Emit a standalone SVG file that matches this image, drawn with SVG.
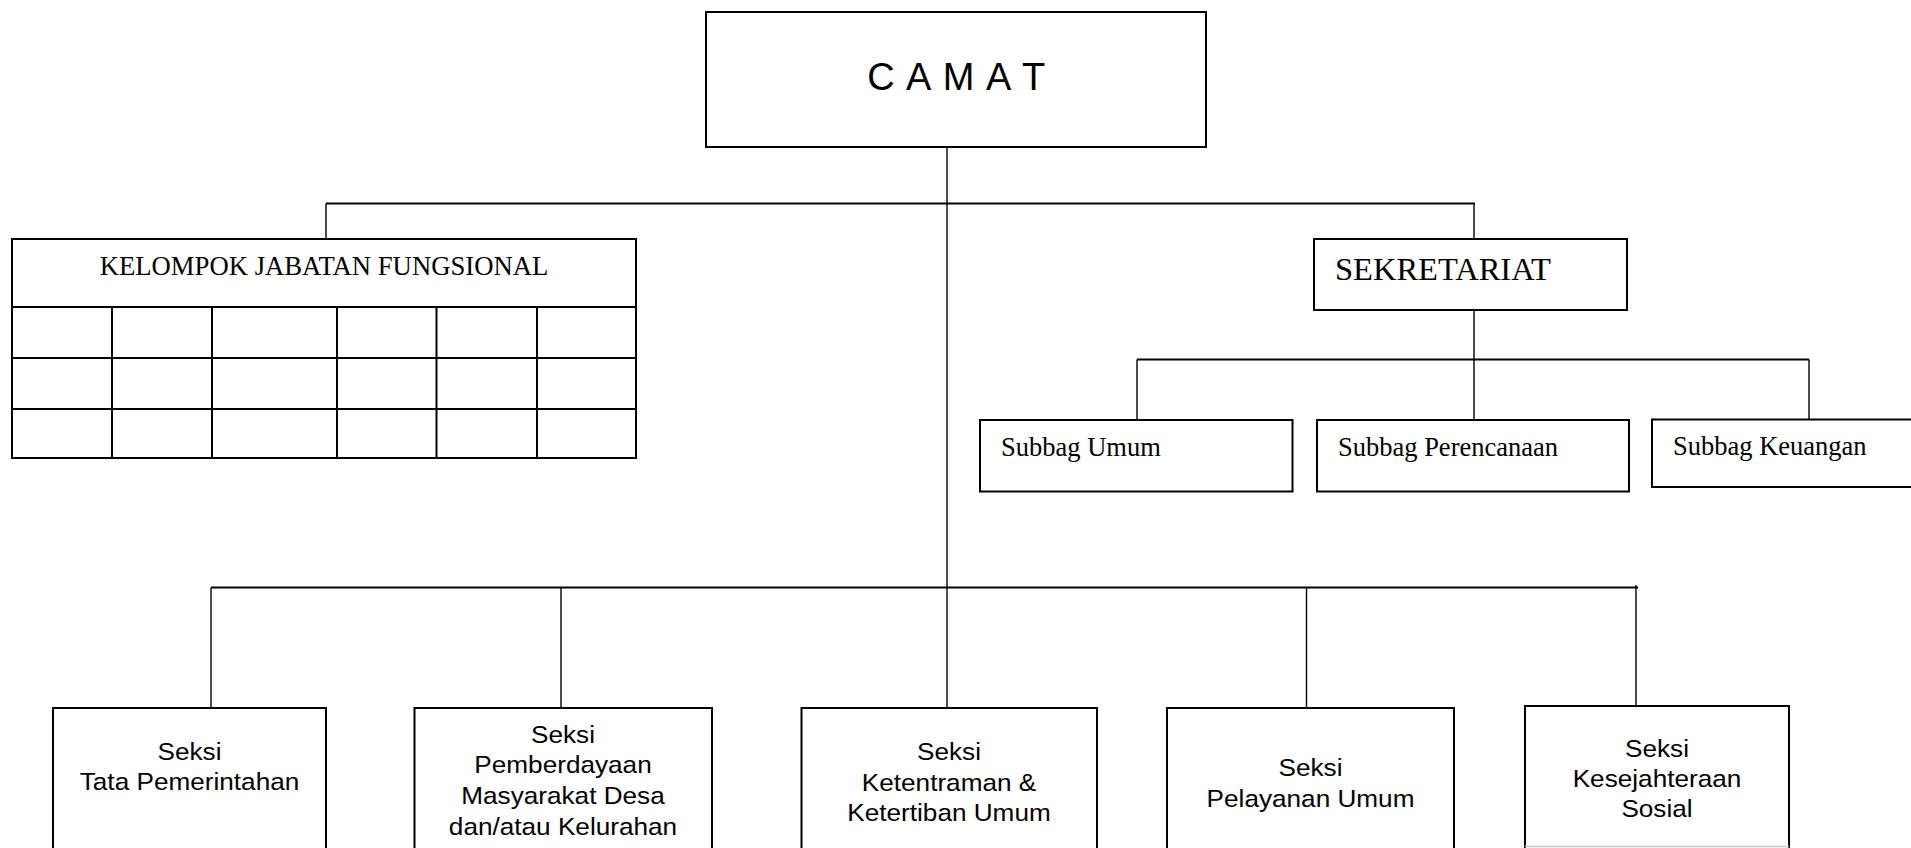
<svg xmlns="http://www.w3.org/2000/svg" width="1911" height="848" viewBox="0 0 1911 848">
<style>
.box{fill:#fff;stroke:#000;stroke-width:2}
.grid{fill:none;stroke:#000;stroke-width:2}
.hl{stroke:#000;stroke-width:2.2;fill:none}
.vl{stroke:#000;stroke-width:1.4;fill:none}
.serif{font-family:"Liberation Serif","Times New Roman",serif;fill:#000}
.sans{font-family:"Liberation Sans",Arial,sans-serif;fill:#000}
.sek{font-family:"Liberation Sans",Arial,sans-serif;font-size:24px;fill:#000;text-anchor:middle}
</style>
<rect width="1911" height="848" fill="#fff"/>
<g id="connectors">
<line class="vl" x1="947" y1="147" x2="947" y2="707"/>
<line class="hl" x1="326" y1="203.5" x2="1475" y2="203.5"/>
<line class="vl" x1="326" y1="203.5" x2="326" y2="239"/>
<line class="vl" x1="1474" y1="203.5" x2="1474" y2="239"/>
<line class="vl" x1="1474" y1="310" x2="1474" y2="420"/>
<line class="hl" x1="1137" y1="359.5" x2="1809" y2="359.5"/>
<line class="vl" x1="1137" y1="359.5" x2="1137" y2="420"/>
<line class="vl" x1="1809" y1="359.5" x2="1809" y2="420"/>
<line class="hl" x1="211" y1="587.5" x2="1638" y2="587.5"/>
<line class="vl" x1="211" y1="587.5" x2="211" y2="708"/>
<line class="vl" x1="561" y1="587.5" x2="561" y2="708"/>
<line class="vl" x1="1306.5" y1="587.5" x2="1306.5" y2="708"/>
<line class="vl" x1="1636" y1="585" x2="1636" y2="706"/>
</g>
<g id="camat">
<rect class="box" x="706" y="12" width="500" height="135"/>
<text class="sans" x="957" y="90" font-size="38" letter-spacing="1.5" text-anchor="middle">C A M A T</text>
</g>
<g id="kelompok-jabatan-fungsional">
<rect class="box" x="12" y="239" width="624" height="219"/>
<path class="grid" d="M12 307H636M12 358H636M12 409H636M112 307V458M212 307V458M337 307V458M436.5 307V458M537 307V458"/>
<text class="serif" x="324" y="275" font-size="26.7" text-anchor="middle">KELOMPOK JABATAN FUNGSIONAL</text>
</g>
<g id="sekretariat">
<rect class="box" x="1314" y="239" width="313" height="71"/>
<text class="serif" x="1335" y="280" font-size="32.5">SEKRETARIAT</text>
</g>
<g id="subbag-umum">
<rect class="box" x="980" y="420" width="312.5" height="71.5"/>
<text class="serif" x="1001" y="455.5" font-size="26.5">Subbag Umum</text>
</g>
<g id="subbag-perencanaan">
<rect class="box" x="1317" y="420" width="312" height="71.5"/>
<text class="serif" x="1338" y="455.5" font-size="26.5">Subbag Perencanaan</text>
</g>
<g id="subbag-keuangan">
<rect class="box" x="1652" y="419.5" width="300" height="67.5"/>
<text class="serif" x="1673" y="455" font-size="26.5">Subbag Keuangan</text>
</g>
<g id="seksi-tata-pemerintahan">
<rect class="box" x="53" y="708" width="273" height="160"/>
<g transform="translate(189.5 0) scale(1.09 1)">
<text class="sek" x="0" y="760">Seksi</text>
<text class="sek" x="0" y="790">Tata Pemerintahan</text>
</g>
</g>
<g id="seksi-pemberdayaan">
<rect class="box" x="414.5" y="708" width="297.5" height="160"/>
<g transform="translate(563 0) scale(1.09 1)">
<text class="sek" x="0" y="743">Seksi</text>
<text class="sek" x="0" y="773.5">Pemberdayaan</text>
<text class="sek" x="0" y="804.5">Masyarakat Desa</text>
<text class="sek" x="0" y="835">dan/atau Kelurahan</text>
</g>
</g>
<g id="seksi-ketentraman">
<rect class="box" x="801.5" y="708" width="295.5" height="160"/>
<g transform="translate(949 0) scale(1.09 1)">
<text class="sek" x="0" y="760">Seksi</text>
<text class="sek" x="0" y="791">Ketentraman &amp;</text>
<text class="sek" x="0" y="821.5">Ketertiban Umum</text>
</g>
</g>
<g id="seksi-pelayanan-umum">
<rect class="box" x="1167" y="708" width="287" height="160"/>
<g transform="translate(1310.5 0) scale(1.09 1)">
<text class="sek" x="0" y="776.5">Seksi</text>
<text class="sek" x="0" y="807">Pelayanan Umum</text>
</g>
</g>
<g id="seksi-kesejahteraan-sosial">
<rect class="box" x="1525" y="706" width="264" height="160"/>
<line x1="1525" y1="846.5" x2="1789" y2="846.5" stroke="#c8c8c8" stroke-width="1.5"/>
<g transform="translate(1657 0) scale(1.09 1)">
<text class="sek" x="0" y="757">Seksi</text>
<text class="sek" x="0" y="787">Kesejahteraan</text>
<text class="sek" x="0" y="817">Sosial</text>
</g>
</g>
</svg>
